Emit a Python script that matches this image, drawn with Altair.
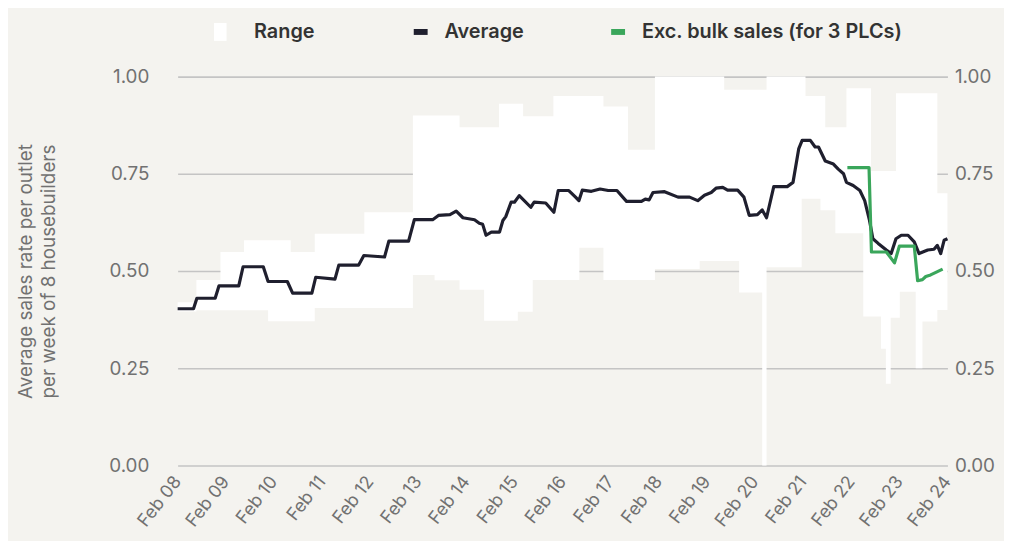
import altair as alt
import pandas as pd

# ---- data ----
# x positions are in years, 2008.0 = Feb 08
avg_year = [2008.00, 2008.33, 2008.40, 2008.78, 2008.86, 2009.27, 2009.36, 2009.78, 2009.88, 2010.28,
            2010.39, 2010.79, 2010.87, 2011.27, 2011.35, 2011.76, 2011.87, 2012.30, 2012.39, 2012.80,
            2012.92, 2013.30, 2013.42, 2013.66, 2013.79, 2013.93, 2014.17, 2014.27, 2014.34, 2014.41,
            2014.52, 2014.69, 2014.76, 2014.82, 2014.93, 2015.00, 2015.10, 2015.34, 2015.41, 2015.65,
            2015.82, 2015.91, 2016.13, 2016.27, 2016.34, 2016.41, 2016.60, 2016.78, 2016.95, 2017.13,
            2017.33, 2017.64, 2017.72, 2017.80, 2017.88, 2018.12, 2018.40, 2018.64, 2018.81, 2018.95,
            2019.09, 2019.19, 2019.33, 2019.43, 2019.64, 2019.77, 2019.88, 2020.05, 2020.15, 2020.24,
            2020.39, 2020.67, 2020.79, 2020.91, 2020.98, 2021.15, 2021.25, 2021.32, 2021.46, 2021.63,
            2021.73, 2021.84, 2021.90, 2022.04, 2022.18, 2022.28, 2022.38, 2022.45, 2022.56, 2022.73,
            2022.83, 2022.93, 2023.04, 2023.18, 2023.31, 2023.41, 2023.59, 2023.72, 2023.79, 2023.86,
            2023.93, 2024.00]
avg_value = [0.403, 0.403, 0.430, 0.430, 0.462, 0.462, 0.511, 0.511, 0.473, 0.473,
             0.443, 0.443, 0.484, 0.479, 0.515, 0.515, 0.540, 0.536, 0.577, 0.577,
             0.632, 0.632, 0.643, 0.645, 0.654, 0.637, 0.632, 0.623, 0.620, 0.592,
             0.600, 0.600, 0.630, 0.640, 0.677, 0.677, 0.694, 0.664, 0.677, 0.675,
             0.651, 0.707, 0.707, 0.690, 0.681, 0.708, 0.705, 0.711, 0.707, 0.707,
             0.679, 0.679, 0.685, 0.683, 0.702, 0.704, 0.690, 0.690, 0.681, 0.695,
             0.702, 0.713, 0.715, 0.708, 0.708, 0.690, 0.643, 0.645, 0.657, 0.637,
             0.717, 0.717, 0.728, 0.815, 0.836, 0.836, 0.819, 0.819, 0.783, 0.775,
             0.762, 0.750, 0.728, 0.720, 0.707, 0.681, 0.630, 0.583, 0.571, 0.554,
             0.545, 0.583, 0.592, 0.592, 0.575, 0.545, 0.554, 0.556, 0.566, 0.545,
             0.579, 0.583]

exc_year = [2021.92, 2022.37, 2022.42, 2022.73, 2022.90, 2023.00, 2023.31, 2023.38, 2023.48,
            2023.55, 2023.65, 2023.90]
exc_value = [0.766, 0.766, 0.549, 0.549, 0.521, 0.564, 0.564, 0.475, 0.478,
             0.486, 0.490, 0.505]

band_year = [2008.00, 2008.39, 2008.89, 2009.38, 2009.88, 2010.35, 2010.85, 2011.88, 2012.89, 2013.34,
             2013.86, 2014.37, 2014.68, 2015.07, 2015.18, 2015.38, 2015.81, 2016.35, 2016.85, 2017.36,
             2017.92, 2018.85, 2019.36, 2019.67, 2020.15, 2020.24, 2020.97, 2021.05, 2021.36, 2021.46,
             2021.67, 2021.90, 2022.25, 2022.41, 2022.62, 2022.72, 2022.82, 2022.93, 2023.01, 2023.34,
             2023.48, 2023.79, 2024.00]
band_low = [0.396, 0.399, 0.399, 0.399, 0.371, 0.371, 0.405, 0.405, 0.490, 0.476,
            0.452, 0.372, 0.372, 0.395, 0.395, 0.477, 0.477, 0.560, 0.477, 0.477,
            0.505, 0.526, 0.526, 0.445, 0.000, 0.510, 0.686, 0.686, 0.656, 0.656,
            0.597, 0.597, 0.383, 0.383, 0.300, 0.210, 0.380, 0.380, 0.447, 0.250,
            0.370, 0.400, 0.420]
band_high = [0.420, 0.477, 0.549, 0.579, 0.579, 0.549, 0.596, 0.651, 0.900, 0.900,
             0.870, 0.870, 0.930, 0.930, 0.898, 0.898, 0.950, 0.950, 0.923, 0.812,
             1.000, 1.000, 0.966, 0.966, 0.966, 1.000, 1.000, 0.950, 0.950, 0.870,
             0.870, 0.970, 0.970, 0.757, 0.757, 0.757, 0.757, 0.957, 0.957, 0.957,
             0.957, 0.700, 0.680]

tick_years = list(range(2008, 2025))
y_ticks = [0, 0.25, 0.5, 0.75, 1.0]
series_names = ["Average", "Exc. bulk sales (for 3 PLCs)"]
series_colors = ["#1f1f2e", "#3aa65b"]

band_df = pd.DataFrame({"year": band_year, "low": band_low, "high": band_high, "series": "Range"})
avg_df = pd.DataFrame({"year": avg_year, "value": avg_value, "series": series_names[0]})
exc_df = pd.DataFrame({"year": exc_year, "value": exc_value, "series": series_names[1]})

FONT = "Inter"
LABEL_COLOR = "#717171"

x_scale = alt.Scale(domain=[2008, 2024], nice=False, zero=False)
y_scale = alt.Scale(domain=[0, 1], nice=False, zero=True)

x_axis = alt.Axis(values=tick_years, labelExpr="'Feb ' + substring(toString(datum.value), 2, 4)",
                  grid=False, domain=False, ticks=False, labelAngle=-52, labelPadding=13,
                  labelFontSize=18, labelColor=LABEL_COLOR, labelFont=FONT, title=None,
                  labelOverlap=False, labelFlush=False)

left_axis = alt.Axis(values=y_ticks, format=".2f", grid=True, gridColor="#c4c4c4", gridWidth=1.6,
                     domain=False, ticks=False, labelPadding=29, labelFontSize=19,
                     labelColor=LABEL_COLOR, labelFont=FONT,
                     title=["Average sales rate per outlet", "per week of 8 housebuilders"],
                     titleFont=FONT, titleFontSize=19, titleFontWeight="normal", titleColor=LABEL_COLOR,
                     titleLineHeight=23, titlePadding=51)

right_axis = alt.Axis(values=y_ticks, format=".2f", orient="right", grid=False, domain=False,
                      ticks=False, labelPadding=7, labelFontSize=19, labelColor=LABEL_COLOR,
                      labelFont=FONT, title=None)

x_enc = alt.X("year:Q", scale=x_scale, axis=x_axis)

range_legend = alt.Legend(title=None, orient="none", legendX=33, legendY=-55, padding=0,
                          symbolType="M-0.7,-1H0.7V1H-0.7Z", symbolSize=324, symbolStrokeWidth=0,
                          labelFont=FONT, labelFontSize=20, labelFontWeight=600, labelColor="#333333",
                          labelOffset=24, labelLimit=400)
line_legend = alt.Legend(title=None, orient="none", legendX=235, legendY=-55, padding=0,
                         direction="horizontal", columnPadding=76, labelLimit=400,
                         symbolType="M-1,0H1", symbolSize=196, symbolStrokeWidth=6,
                         labelFont=FONT, labelFontSize=20, labelFontWeight=600, labelColor="#333333",
                         labelOffset=14)

band = alt.Chart(band_df).mark_area(interpolate="step-after", opacity=1).encode(
    x=x_enc,
    y=alt.Y("low:Q", scale=y_scale, axis=left_axis),
    y2="high:Q",
    fill=alt.Fill("series:N", scale=alt.Scale(domain=["Range"], range=["#ffffff"]), legend=range_legend),
)

stroke_scale = alt.Scale(domain=series_names, range=series_colors)

avg = alt.Chart(avg_df).mark_line(strokeWidth=3.2, strokeJoin="round").encode(
    x=x_enc,
    y=alt.Y("value:Q", scale=y_scale, axis=right_axis),
    stroke=alt.Stroke("series:N", scale=stroke_scale, legend=line_legend),
)

exc = alt.Chart(exc_df).mark_line(strokeWidth=3.2, strokeJoin="round").encode(
    x=x_enc,
    y=alt.Y("value:Q", scale=y_scale, axis=None),
    stroke=alt.Stroke("series:N", scale=stroke_scale, legend=line_legend),
)

chart = alt.layer(band, avg, exc).resolve_axis(y="independent").properties(
    width=776, height=392,
    autosize=alt.AutoSizeParams(type="none"),
    padding={"left": 171, "top": 67, "right": 57, "bottom": 74},
    background="#f4f3ef",
).configure_view(stroke=None)

chart.save("out.html", embed_options={"renderer": "svg", "actions": False})
